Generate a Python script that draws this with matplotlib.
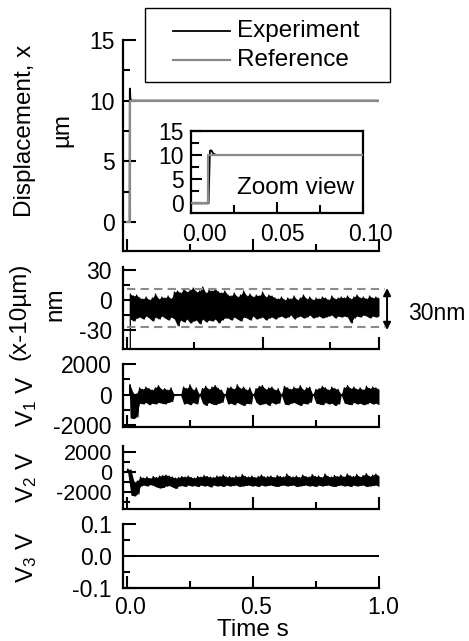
import numpy as np
import matplotlib
matplotlib.use("Agg")
import matplotlib.pyplot as plt
from matplotlib.lines import Line2D
from matplotlib.patches import Rectangle
from matplotlib.transforms import ScaledTranslation

plt.rcParams['font.family'] = ['Liberation Sans', 'DejaVu Sans']
plt.rcParams['mathtext.fontset'] = 'custom'
plt.rcParams['mathtext.rm'] = 'Liberation Sans'
plt.rcParams['mathtext.it'] = 'Liberation Sans:italic'
plt.rcParams['axes.unicode_minus'] = False

# ---------------- data ----------------
# displacement step (um)
ref_t = [0.0, 0.0100, 0.0100, 1.0]
ref_x = [0.0, 0.0, 10.0, 10.0]
exp_t = [0.0, 0.0102, 0.0110, 0.0118, 0.0130, 0.0150, 1.0]
exp_x = [0.0, 0.0, 10.9, 11.0, 10.3, 10.0, 10.0]

# deviation x-10um (nm): envelope (t from 0.013 to 1.0)
dev_t0 = 0.013
dev_upper = [6, 4, 5, 2, 1, 3, 0, 2, 6, 1,
             3, 2, 4, 1, 8, 9, 7, 11, 8, 10,
             12, 8, 9, 13, 7, 10, 9, 11, 8, 7,
             9, 5, 4, 7, 3, 5, 9, 4, 6, 3,
             5, 4, 8, 3, 5, 4, 2, 1, 3, 0,
             2, 1, 4, 0, 2, 5, 1, 3, 0, 2,
             1, 3, 2, 0, 4, 1, 2, 3, 2, 4,
             1, 3, 5, 2, 3, 1, 4, 2, 3, 2]
dev_lower = [-19, -21, -18, -17, -19, -16, -18, -21, -17, -19,
             -16, -18, -20, -17, -19, -26, -20, -22, -19, -23,
             -21, -20, -24, -19, -22, -20, -21, -19, -23, -20,
             -18, -18, -20, -17, -19, -21, -17, -18, -20, -16,
             -19, -18, -17, -20, -18, -17, -19, -17, -16, -18,
             -17, -15, -19, -17, -16, -18, -17, -15, -18, -17,
             -16, -18, -17, -16, -15, -18, -16, -17, -16, -17,
             -23, -18, -16, -17, -15, -16, -18, -16, -17, -16]
dev_band = [11, -27]          # dashed guide lines (nm)
dev_arrow = [12, -30]         # "30nm" arrow ends

# V1 (V)
v1_pre_t = [0.0, 0.010]
v1_pre = [0, 0]
v1_t0 = 0.012
v1_upper = [650, 100, 50, 450, 350, 500, 400, 300, 450, 600,
            350, 400, 300, 450, 0, 0, 0, 500, 400, 650,
            300, 450, 0, 400, 550, 350, 500, 600, 400, 300,
            0, 450, 500, 350, 650, 400, 500, 300, 450, 0,
            400, 550, 600, 350, 450, 500, 300, 400, 0, 550,
            450, 350, 500, 400, 600, 300, 450, 500, 0, 350,
            400, 550, 450, 300, 500, 400, 350, 0, 450, 600,
            400, 500, 350, 450, 300, 550, 400, 500, 450, 350]
v1_lower = [-1500, -1550, -1450, -550, -600, -500, -650, -550, -600, -500,
            -550, -600, -500, -450, 0, 0, 0, -600, -550, -650,
            -500, -600, 0, -550, -700, -500, -600, -650, -550, -500,
            0, -600, -550, -650, -500, -600, -700, -550, -600, 0,
            -500, -650, -600, -550, -700, -500, -600, -550, 0, -600,
            -650, -550, -500, -600, -700, -550, -600, -500, 0, -550,
            -600, -650, -500, -600, -550, -700, -600, 0, -550, -600,
            -650, -500, -600, -550, -650, -600, -500, -600, -550, -650]

# V2 (V)
v2_pre_t = [0.0, 0.003]
v2_pre = [0, 300]
v2_t0 = 0.003
v2_upper = [300, 200, -1000, -900, -500, -600, -500, -650, -450, -550,
            -400, -350, -300, -400, -500, -600, -550, -450, -500, -400,
            -550, -600, -450, -500, -350, -450, -500, -550, -400, -450,
            -300, -500, -450, -550, -400, -500, -250, -450, -500, -400,
            -550, -450, -300, -500, -450, -400, -550, -350, -450, -500,
            -200, -450, -500, -400, -550, -300, -450, -500, -250, -450,
            -400, -550, -200, -450, -500, -350, -450, -300, -500, -200,
            -400, -450, -250, -500, -350, -150, -450, -300, -200, -400]
v2_lower = [-100, -2300, -2400, -2200, -1400, -1300, -1400, -1250, -1350, -1500,
            -1600, -1550, -1400, -1350, -1500, -1650, -1400, -1350, -1450, -1300,
            -1400, -1350, -1450, -1300, -1400, -1350, -1500, -1300, -1400, -1350,
            -1450, -1300, -1400, -1350, -1300, -1450, -1400, -1350, -1300, -1400,
            -1350, -1450, -1300, -1400, -1350, -1300, -1400, -1450, -1350, -1300,
            -1400, -1350, -1300, -1450, -1400, -1350, -1300, -1400, -1350, -1450,
            -1300, -1400, -1350, -1300, -1400, -1450, -1350, -1300, -1400, -1350,
            -1450, -1300, -1400, -1350, -1300, -1450, -1400, -1350, -1300, -1450]

# V3 (V)
v3_t = [0.0, 1.0]
v3 = [0.0, 0.0]

legend_labels = ["Experiment", "Reference"]

# ---------------- helpers ----------------
GREY = "#8a8a8a"
FS_TICK = 16.5
FS_LAB = 17.5


def env_grid(t0, upper, lower, t1=1.0):
    n = min(len(upper), len(lower))
    return np.linspace(t0, t1, n), np.asarray(upper[:n]), np.asarray(lower[:n])


def zigzag(t, up, lo, t1=1.0):
    n = len(t)
    dt = t[1] - t[0]
    tt = np.empty(2 * n)
    yy = np.empty(2 * n)
    tt[0::2] = t
    tt[1::2] = t + dt / 2
    yy[0::2] = up
    yy[1::2] = lo
    keep = tt <= t1
    return tt[keep], yy[keep]


def draw_noise(ax, pre_t, pre_y, t0, upper, lower):
    t, up, lo = env_grid(t0, upper, lower)
    zt, zy = zigzag(t, up, lo)
    ax.fill_between(t, up, lo, color="black", lw=0, zorder=2)
    ax.plot(np.r_[pre_t, zt], np.r_[pre_y, zy], color="black", lw=0.9, zorder=2)


def style(ax, ymaj, ymin, xmaj=(0, 0.5, 1.0), xmin=(0.25, 0.75), pad=8):
    for s in ("top", "right"):
        ax.spines[s].set_visible(False)
    for s in ("left", "bottom"):
        ax.spines[s].set_linewidth(1.6)
    ax.set_xlim(-0.016, 1.0)
    ax.set_yticks(ymaj)
    ax.set_yticks(ymin, minor=True)
    ax.set_xticks(xmaj)
    ax.set_xticks(xmin, minor=True)
    ax.tick_params(which="both", direction="in", width=1.5, labelsize=FS_TICK)
    ax.tick_params(which="major", length=9)
    ax.tick_params(which="minor", length=5)
    ax.tick_params(axis="y", pad=pad)
    ax.tick_params(axis="x", labelbottom=False)


W, H = 469, 641
fig = plt.figure(figsize=(W / 100, H / 100), dpi=100)


def rect(l, t, r, b):
    return [l / W, 1 - b / H, (r - l) / W, (b - t) / H]


def shift_labels(labels, dxs):
    for lab, dx in zip(labels, dxs):
        lab.set_transform(lab.get_transform() +
                          ScaledTranslation(dx / 100, 0, fig.dpi_scale_trans))


L, R = 123, 379
ax1 = fig.add_axes(rect(L, 40, R, 251))
ax2 = fig.add_axes(rect(L, 267, R, 349))
ax3 = fig.add_axes(rect(L, 364, R, 427))
ax4 = fig.add_axes(rect(L, 446, R, 509))
ax5 = fig.add_axes(rect(L, 524, R, 588))

# ---- panel 1: displacement ----
ax1.plot(exp_t, exp_x, color="black", lw=1.3, zorder=2)
ax1.plot(ref_t, ref_x, color=GREY, lw=1.6, zorder=3)
ax1.set_ylim(-2.4, 15)
style(ax1, [0, 5, 10, 15], [2.5, 7.5, 12.5], pad=6)

# inset
axi = fig.add_axes(rect(191, 131, 363, 213))
axi.plot(exp_t, exp_x, color="black", lw=1.3, zorder=2)
axi.plot(ref_t, ref_x, color=GREY, lw=1.6, zorder=3)
axi.set_xlim(0, 0.1)
axi.set_ylim(-2, 15)
axi.set_yticks([0, 5, 10, 15])
axi.set_yticks([2.5, 7.5, 12.5], minor=True)
axi.set_xticks([0, 0.05, 0.1])
axi.set_xticks([0.025, 0.075], minor=True)
axi.set_xticklabels(["0.00", "0.05", "0.10"])
for s in axi.spines.values():
    s.set_linewidth(1.6)
axi.tick_params(which="both", direction="in", width=1.5, labelsize=FS_TICK)
axi.tick_params(which="major", length=8)
axi.tick_params(which="minor", length=6)
axi.tick_params(axis="y", pad=5)
axi.tick_params(axis="x", pad=7)
shift_labels(axi.get_xticklabels(), [13, 5, 7])
axi.text(0.61, 0.30, "Zoom view", transform=axi.transAxes, ha="center",
         va="center", fontsize=FS_LAB)

# ---- panel 2: x-10um ----
pre_t = [t for t in exp_t[:2]] + [0.0115]
pre_dev = [(v - 10.0) * 1000 for v in exp_x[:2]] + [(exp_x[1] - 10.0) * 1000]
draw_noise(ax2, pre_t, pre_dev, dev_t0, dev_upper, dev_lower)
for lvl in dev_band:
    ax2.plot([0.0, 1.024], [lvl, lvl], color=GREY, lw=1.5, ls=(0, (4, 2.5)),
             clip_on=False, zorder=4)
ax2.annotate("", xy=(1.032, dev_arrow[0]), xytext=(1.032, dev_arrow[1]),
             xycoords="data", annotation_clip=False,
             arrowprops=dict(arrowstyle="<|-|>", color="black", lw=1.4,
                             shrinkA=0, shrinkB=0, mutation_scale=11))
ax2.set_ylim(-49, 33)
style(ax2, [-30, 0, 30], [-15, 15], xmaj=(0, 0.538, 1.0), xmin=(0.267, 0.805))

# ---- panel 3: V1 ----
draw_noise(ax3, v1_pre_t, v1_pre, v1_t0, v1_upper, v1_lower)
ax3.plot(v1_pre_t[:1] + [1.0], v1_pre, color="black", lw=1.3)
ax3.set_ylim(-2100, 2000)
style(ax3, [-2000, 0, 2000], [-1000, 1000])

# ---- panel 4: V2 ----
draw_noise(ax4, v2_pre_t, v2_pre, v2_t0, v2_upper, v2_lower)
ax4.set_ylim(-3700, 2600)
style(ax4, [-2000, 0, 2000], [-3000, -1000, 1000])
ax4.tick_params(axis="y", labelsize=15.5)

# ---- panel 5: V3 ----
ax5.plot(v3_t, v3, color="black", lw=1.4)
ax5.set_ylim(-0.1, 0.1)
style(ax5, [-0.1, 0.0, 0.1], [-0.05, 0.05])
ax5.set_yticklabels(["-0.1", "0.0", "0.1"])
ax5.tick_params(axis="x", labelbottom=True, pad=6)
ax5.set_xticklabels(["0.0", "0.5", "1.0"])
shift_labels(ax5.get_xticklabels(), [3, 3, 4])

# ---- axis labels ----
def ftext(x, y, s, **kw):
    fig.text(x / W, 1 - y / H, s, ha="center", va="center",
             fontsize=FS_LAB, **kw)

ftext(25, 131, "Displacement, x", rotation=90)
ftext(62, 130, "\u00b5m", rotation=90)
ftext(20, 311, "(x-10\u00b5m)", rotation=90)
ftext(55, 304, "nm", rotation=90)
ftext(27, 401, r"V$_\mathregular{1}$ V", rotation=90)
ftext(27, 477, r"V$_\mathregular{2}$ V", rotation=90)
ftext(27, 557, r"V$_\mathregular{3}$ V", rotation=90)
ftext(253, 630, "Time s")
fig.text(408 / W, 1 - 313 / H, "30nm", ha="left", va="center", fontsize=16.5)

# ---- legend (drawn in figure pixels) ----
fig.add_artist(Rectangle((145 / W, 1 - 82 / H), 245 / W, 74 / H,
                         transform=fig.transFigure, fill=True, fc="white",
                         ec="black", lw=1.0, zorder=10))
for yy, col, lab, lw in [(31, "black", legend_labels[0], 1.3),
                         (60, GREY, legend_labels[1], 1.6)]:
    fig.add_artist(Line2D([173 / W, 230 / W], [1 - yy / H, 1 - yy / H],
                          transform=fig.transFigure, color=col, lw=lw, zorder=11))
    fig.text(237 / W, 1 - yy / H, lab, ha="left", va="center",
             fontsize=FS_LAB, zorder=11)

fig.savefig("out.png", dpi=100)
